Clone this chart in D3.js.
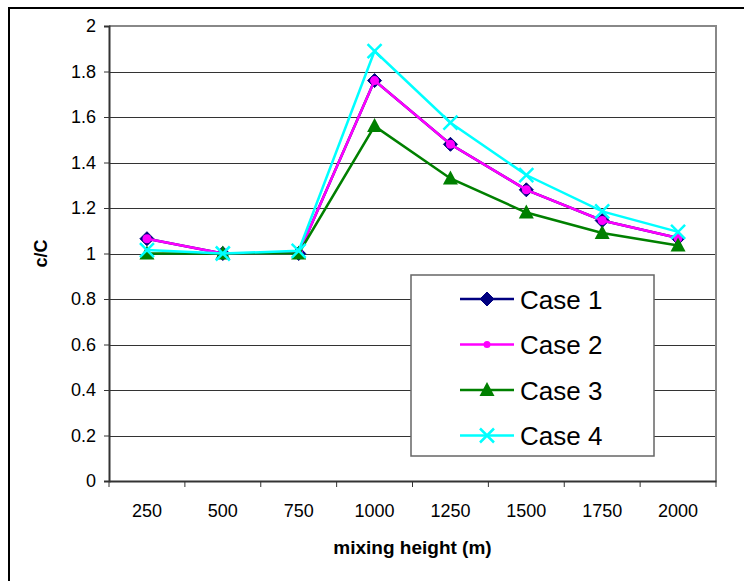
<!DOCTYPE html>
<html>
<head>
<meta charset="UTF-8">
<title>c/C vs mixing height</title>
<script src="https://d3js.org/d3.v7.min.js"></script>
<style>
  body { margin: 0; background: #fff; }
  svg { font-family: "Liberation Sans", Arial, sans-serif; }
  .grid line { stroke: #333; stroke-width: 1; shape-rendering: crispEdges; }
  .grid path { stroke-width: 0; }
</style>
</head>
<body>
<svg id="chart" width="744" height="581"></svg>
<script>
// ---- data ----
var heights = ["250", "500", "750", "1000", "1250", "1500", "1750", "2000"];
var case1 = [1.065, 1.0, 1.0, 1.76, 1.48, 1.28, 1.145, 1.068];
var case2 = [1.065, 1.0, 1.0, 1.76, 1.48, 1.28, 1.145, 1.068];
var case3 = [1.0, 1.0, 1.0, 1.56, 1.33, 1.18, 1.09, 1.035];
var case4 = [1.015, 1.0, 1.012, 1.89, 1.575, 1.345, 1.185, 1.095];
var seriesNames = ["Case 1", "Case 2", "Case 3", "Case 4"];
var yTicks = [0, 0.2, 0.4, 0.6, 0.8, 1, 1.2, 1.4, 1.6, 1.8, 2];

var series = [
  {name: seriesNames[0], values: case1, color: "#000080", marker: "diamond"},
  {name: seriesNames[1], values: case2, color: "#FF00FF", marker: "circle"},
  {name: seriesNames[2], values: case3, color: "#008000", marker: "triangle"},
  {name: seriesNames[3], values: case4, color: "#00FFFF", marker: "cross"}
];

var svg = d3.select("#chart");
var margin = {left: 109, top: 26, right: 716, bottom: 481};

// outer frame
svg.append("rect")
  .attr("x", 9).attr("y", 8).attr("width", 760).attr("height", 600)
  .attr("fill", "#fff").attr("stroke", "#000").attr("stroke-width", 2);

var x = d3.scaleBand().domain(heights).range([margin.left, margin.right]);
var y = d3.scaleLinear().domain([0, 2]).range([margin.bottom, margin.top]);

// gridlines
svg.append("g")
  .attr("class", "grid")
  .attr("transform", "translate(" + margin.left + ",0)")
  .call(d3.axisRight(y).tickValues(yTicks.slice(1, -1)).tickSize(margin.right - margin.left).tickFormat(""));

// plot border (top / right)
svg.append("path")
  .attr("d", "M" + margin.left + "," + margin.top + "H" + margin.right + "V" + margin.bottom)
  .attr("fill", "none").attr("stroke", "#888").attr("stroke-width", 2);

// y axis
var yAxis = svg.append("g")
  .attr("transform", "translate(" + margin.left + ",0)")
  .call(d3.axisLeft(y).tickValues(yTicks).tickSize(5).tickPadding(8).tickFormat(d3.format("~g")));
yAxis.select(".domain").attr("stroke", "#333").attr("stroke-width", 2);
yAxis.selectAll(".tick line").attr("stroke", "#333");
yAxis.selectAll("text").attr("font-size", 18).attr("fill", "#000")
  .attr("font-family", "Liberation Sans, Arial, sans-serif");

// x axis: ticks at category boundaries
var xAxis = svg.append("g")
  .attr("transform", "translate(0," + margin.bottom + ")")
  .call(d3.axisBottom(x).tickSize(0).tickPadding(23));
xAxis.select(".domain").attr("stroke", "#333").attr("stroke-width", 2);
xAxis.selectAll("text").attr("font-size", 18).attr("fill", "#000")
  .attr("font-family", "Liberation Sans, Arial, sans-serif");
xAxis.selectAll(".bound")
  .data(heights.concat(["end"]))
  .enter().append("line")
  .attr("x1", function(d, i) { return x.range()[0] + i * x.step(); })
  .attr("x2", function(d, i) { return x.range()[0] + i * x.step(); })
  .attr("y1", 0).attr("y2", 6)
  .attr("stroke", "#333");

// axis titles
svg.append("text")
  .attr("x", (margin.left + margin.right) / 2).attr("y", 554)
  .attr("text-anchor", "middle").attr("font-size", 19).attr("font-weight", "bold")
  .text("mixing height (m)");
svg.append("text")
  .attr("transform", "translate(47," + y(1) + ") rotate(-90)")
  .attr("text-anchor", "middle").attr("font-size", 18).attr("font-weight", "bold")
  .text("c/C");

// markers
function drawMarker(g, type, color) {
  if (type === "diamond") {
    g.append("path").attr("d", "M0,-7L7,0L0,7L-7,0Z").attr("fill", color).attr("stroke", color);
  } else if (type === "circle") {
    g.append("circle").attr("r", 4.5).attr("fill", color);
  } else if (type === "triangle") {
    g.append("path").attr("d", "M0,-8L7.5,6L-7.5,6Z").attr("fill", color);
  } else if (type === "cross") {
    g.append("path").attr("d", "M-7,-7L7,7M-7,7L7,-7").attr("stroke", color).attr("stroke-width", 2.5);
  }
}

var line = d3.line()
  .x(function(d, i) { return x(heights[i]) + x.bandwidth() / 2; })
  .y(function(d) { return y(d); });

series.forEach(function(s) {
  svg.append("path")
    .attr("d", line(s.values))
    .attr("fill", "none").attr("stroke", s.color).attr("stroke-width", 2.5);
  s.values.forEach(function(v, i) {
    var g = svg.append("g")
      .attr("transform", "translate(" + (x(heights[i]) + x.bandwidth() / 2) + "," + y(v) + ")");
    drawMarker(g, s.marker, s.color);
  });
});

// legend
var legend = svg.append("g").attr("transform", "translate(411,275)");
legend.append("rect")
  .attr("width", 243).attr("height", 181)
  .attr("fill", "#fff").attr("stroke", "#666").attr("stroke-width", 1.5);
var item = legend.selectAll(".item")
  .data(series)
  .enter().append("g")
  .attr("transform", function(d, i) { return "translate(0," + (24 + i * 45.5) + ")"; });
item.append("line")
  .attr("x1", 49).attr("x2", 103)
  .attr("stroke", function(d) { return d.color; }).attr("stroke-width", 2.5);
item.each(function(d) {
  var g = d3.select(this).append("g").attr("transform", "translate(76,0)");
  if (d.marker === "circle") {
    g.append("circle").attr("r", 3.5).attr("fill", d.color);
  } else {
    drawMarker(g, d.marker, d.color);
  }
});
item.append("text")
  .attr("x", 109).attr("y", 9.5)
  .attr("font-size", 26).attr("fill", "#000")
  .text(function(d) { return d.name; });
</script>
</body>
</html>
